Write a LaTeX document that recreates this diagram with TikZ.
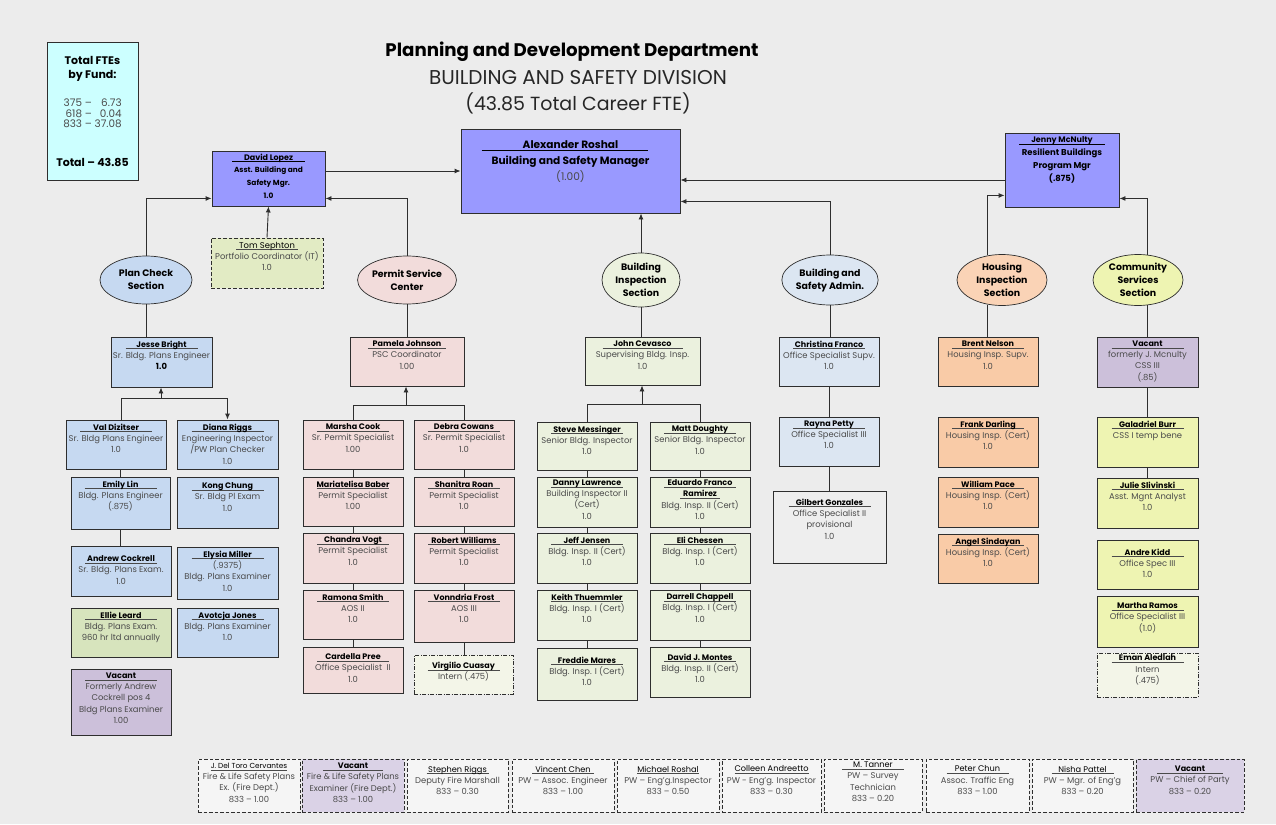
\documentclass[tikz,border=0pt]{standalone}
\usepackage{fontspec}
\setmainfont{Poppins}
\usetikzlibrary{arrows.meta,shapes.geometric,fit}

\definecolor{paper}{HTML}{ECECEC}
\definecolor{edge}{HTML}{2E2E2E}
\definecolor{body}{HTML}{4A4A4A}
\definecolor{mgr}{HTML}{9999FF}
\definecolor{fund}{HTML}{CCFFFF}
\definecolor{plan}{HTML}{C6D9F1}
\definecolor{permit}{HTML}{F2DCDB}
\definecolor{insp}{HTML}{EBF1DE}
\definecolor{admin}{HTML}{DCE6F2}
\definecolor{admintwo}{HTML}{EEEEEE}
\definecolor{housing}{HTML}{F9CBA7}
\definecolor{housingell}{HTML}{FAD3B6}
\definecolor{commun}{HTML}{EEF4B2}
\definecolor{vacant}{HTML}{CCC0DA}
\definecolor{leafgreen}{HTML}{D7E4BD}
\definecolor{itgreen}{HTML}{E2EBC4}
\definecolor{intern}{HTML}{F3F5E8}
\definecolor{ext}{HTML}{F5F5F5}
\definecolor{extvac}{HTML}{DAD2E6}

% underlined name: bold, rule at least #1 wide
\newlength\nmw
\newcommand\nm[2][72pt]{\settowidth\nmw{\fontsize{8}{11}\selectfont\bfseries #2}\ifdim\nmw<#1\relax\nmw=#1\relax\fi
  \leavevmode\rlap{\raisebox{-1.9pt}{\rule{\nmw}{0.6pt}}}\makebox[\nmw]{\fontsize{8}{11}\selectfont\color{black}\bfseries #2}}
% underlined name, regular weight
\newcommand\un[2][58pt]{\settowidth\nmw{#2}\ifdim\nmw<#1\relax\nmw=#1\relax\fi
  \leavevmode\rlap{\raisebox{-1.8pt}{\rule{\nmw}{0.5pt}}}\makebox[\nmw]{\color{black}#2}}

% staff box: [text offset]{id}{style}{corner}{corner}{text}
\newcommand\pbox[6][3pt]{%
  \node[#3, fit={(#4) (#5)}] (#2) {};
  \node[btxt, anchor=north] at ([yshift=-#1]#2.north) {#6};}

\tikzset{
  base/.style={draw=edge, line width=0.9pt, inner sep=0pt},
  mgrbox/.style={base, fill=mgr},
  planbox/.style={base, fill=plan},
  permitbox/.style={base, fill=permit},
  inspbox/.style={base, fill=insp},
  adminbox/.style={base, fill=admin},
  housingbox/.style={base, fill=housing},
  commbox/.style={base, fill=commun},
  vacbox/.style={base, fill=vacant},
  dashbox/.style={base, line width=0.8pt, dash pattern=on 3.5pt off 2pt},
  dotbox/.style={base, line width=0.8pt, fill=intern, dash pattern=on 4pt off 1.5pt on 1pt off 1.5pt},
  extbox/.style={dashbox, fill=ext},
  btxt/.style={align=center, font=\fontsize{8.4}{11.3}\selectfont, text=body, inner sep=1pt},
  sect/.style={ellipse, draw=edge, line width=0.7pt, inner sep=0pt, align=center,
    font=\fontsize{9.4}{13}\selectfont\bfseries, text=black},
  conn/.style={draw=edge, line width=0.9pt},
  arr/.style={conn, -{Latex[length=6pt,width=5pt]}},
}

\begin{document}
\begin{tikzpicture}[x=1pt,y=-1pt]
\fill[paper] (0,0) rectangle (1276,824);
\useasboundingbox (0,0) rectangle (1276,824);

% ---------- heading ----------
\node[font=\fontsize{18.2}{21}\selectfont\bfseries, text=black] (title) at (572,52) {Planning and Development Department};
\node[font=\fontsize{20}{22}\selectfont, text=black!85] (subtitle) at (578,78) {BUILDING AND SAFETY DIVISION};
\node[font=\fontsize{19}{22}\selectfont, text=black!85] (fte) at (578,103) {(43.85 Total Career FTE)};

% ---------- funds ----------
\node[base, fill=fund, fit={(47,42) (138,180)}] (funds) {};
\node[anchor=north, align=center, font=\fontsize{11}{14}\selectfont, inner sep=0pt] at ([yshift=-15pt]funds.north)
  {\textbf{Total FTEs}\\\textbf{by Fund:}\\[16pt]
   {\fontsize{10.4}{10.6}\selectfont\color{body}\renewcommand\arraystretch{0.92}%
    \begin{tabular}{@{}r@{ -- }r@{}}375&6.73\\618&0.04\\833&37.08\end{tabular}}\\[27pt]
   \textbf{Total -- 43.85}};

% ---------- managers ----------
\node[mgrbox, fit={(461,129) (680,213)}] (rm) {};
\node[anchor=north, align=center, font=\fontsize{10.6}{16}\selectfont, inner sep=0pt] at ([yshift=-12pt]rm.north)
  {\leavevmode\rlap{\hspace{-41pt}\raisebox{-2.2pt}{\rule{166pt}{0.7pt}}}\textbf{Alexander Roshal}\\
   \textbf{Building and Safety Manager}\\{\color{body}(1.00)}};
\node[mgrbox, fit={(212,151) (325,206)}] (dl) {};
\node[anchor=north, align=center, font=\fontsize{7.4}{12.8}\selectfont\bfseries, inner sep=0pt] at ([yshift=-3pt]dl.north)
  {\nm[73pt]{David Lopez}\\Asst. Building and\\Safety Mgr.\\1.0};
\node[mgrbox, fit={(1005,133) (1119,207)}] (jm) {};
\node[anchor=north, align=center, font=\fontsize{8.5}{13}\selectfont\bfseries, inner sep=0pt] at ([yshift=-4pt]jm.north)
  {\nm[86pt]{Jenny McNulty}\\Resilient Buildings\\Program Mgr\\(.875)};

\pbox{tom}{dashbox, fill=itgreen}{211,238}{323,288}{\un[62pt]{Tom Sephton}\\Portfolio Coordinator (IT)\\1.0}

% ---------- sections ----------
\node[sect, fill=plan, minimum width=92pt, minimum height=48pt] (pcs) at (146,280) {Plan Check\\Section};
\node[sect, fill=permit, minimum width=91pt, minimum height=48pt] (psc) at (407,280) {Permit Service\\Center};
\node[sect, fill=insp, minimum width=78pt, minimum height=54pt] (bis) at (641,280) {Building\\Inspection\\Section};
\node[sect, fill=admin, minimum width=86pt, minimum height=50pt] (adm) at (830,280) {Building and\\Safety Admin.};
\node[sect, fill=housingell, minimum width=90pt, minimum height=51pt] (his) at (1002,280) {Housing\\Inspection\\Section};
\node[sect, fill=commun, minimum width=90pt, minimum height=51pt] (css) at (1138,280) {Community\\Services\\Section};

% ---------- plan check ----------
\pbox{jb}{planbox}{111,337}{212,387}{\nm{Jesse Bright}\\Sr. Bldg. Plans Engineer\\{\color{black}\bfseries 1.0}}
\pbox{vd}{planbox}{66,420}{166,469}{\nm{Val Dizitser}\\Sr. Bldg Plans Engineer\\1.0}
\pbox{dr}{planbox}{177,420}{278,469}{\nm{Diana Riggs}\\Engineering Inspector\\/PW Plan Checker\\1.0}
\pbox{em}{planbox}{71,477}{170,529}{\nm{Emily Lin}\\Bldg. Plans Engineer\\(.875)}
\pbox[5pt]{kc}{planbox}{177,477}{278,528}{\nm{Kong Chung}\\Sr. Bldg Pl Exam\\1.0}
\pbox[9pt]{ac}{planbox}{71,546}{171,596}{\nm{Andrew Cockrell}\\Sr. Bldg. Plans Exam.\\1.0}
\pbox{ely}{planbox}{177,547}{278,599}{\nm{Elysia Miller}\\(.9375)\\Bldg. Plans Examiner\\1.0}
\pbox{el}{base, fill=leafgreen}{71,608}{171,657}{\nm{Ellie Leard}\\Bldg. Plans Exam.\\960 hr ltd annually}
\pbox{aj}{planbox}{177,608}{278,657}{\nm{Avotcja Jones}\\Bldg. Plans Examiner\\1.0}
\pbox{vpc}{vacbox}{71,669}{171,735}{\nm{Vacant}\\Formerly Andrew\\Cockrell pos 4\\Bldg Plans Examiner\\1.00}

% ---------- permit service center ----------
\pbox{pj}{permitbox}{350,337}{464,386}{\nm[78pt]{Pamela Johnson}\\PSC Coordinator\\1.00}
\pbox{mc}{permitbox}{303,420}{403,469}{\nm{Marsha Cook}\\Sr. Permit Specialist\\1.00}
\pbox{dc}{permitbox}{414,420}{514,469}{\nm{Debra Cowans}\\Sr. Permit Specialist\\1.0}
\pbox{mb}{permitbox}{303,477}{403,526}{\nm{Mariatelisa Baber}\\Permit Specialist\\1.00}
\pbox{sr}{permitbox}{414,477}{514,526}{\nm{Shanitra Roan}\\Permit Specialist\\1.0}
\pbox{cv}{permitbox}{303,533}{403,583}{\nm{Chandra Vogt}\\Permit Specialist\\1.0}
\pbox{rw}{permitbox}{414,533}{514,583}{\nm{Robert Williams}\\Permit Specialist\\1.0}
\pbox{rs}{permitbox}{303,590}{403,639}{\nm{Ramona Smith}\\AOS II\\1.0}
\pbox{vf}{permitbox}{414,590}{514,642}{\nm{Vonndria Frost}\\AOS III\\1.0}
\pbox[6pt]{cp}{permitbox}{303,647}{403,693}{\nm{Cardella Pree}\\Office Specialist\ \ II\\1.0}
\pbox[6pt]{vc}{dotbox}{414,655}{513,694}{\nm{Virgilio Cuasay}\\Intern (.475)}

% ---------- building inspection ----------
\pbox{jc}{inspbox}{585,337}{700,385}{\nm[80pt]{John Cevasco}\\Supervising Bldg. Insp.\\1.0}
\pbox{sm}{inspbox}{537,422}{637,470}{\nm{Steve Messinger}\\Senior Bldg. Inspector\\1.0}
\pbox{md}{inspbox}{650,422}{750,470}{\nm{Matt Doughty}\\Senior Bldg. Inspector\\1.0}
\pbox[2pt]{dlw}{inspbox}{537,477}{637,527}{\nm{Danny Lawrence}\\Building Inspector II\\(Cert)\\1.0}
\pbox[2pt]{ef}{inspbox}{650,477}{750,527}{\nm{Eduardo Franco}\\\nm[40pt]{Ramirez}\\Bldg. Insp. II (Cert)\\1.0}
\pbox{jj}{inspbox}{537,533}{637,583}{\nm{Jeff Jensen}\\Bldg. Insp. II (Cert)\\1.0}
\pbox{ec}{inspbox}{650,533}{750,583}{\nm{Eli Chessen}\\Bldg. Insp. I (Cert)\\1.0}
\pbox{kt}{inspbox}{537,590}{637,640}{\nm{Keith Thuemmler}\\Bldg. Insp. I (Cert)\\1.0}
\pbox{dch}{inspbox}{650,590}{750,640}{\nm{Darrell Chappell}\\Bldg. Insp. I (Cert)\\1.0}
\pbox[8pt]{fm}{inspbox}{537,648}{637,700}{\nm{Freddie Mares}\\Bldg. Insp. I (Cert)\\1.0}
\pbox[6pt]{djm}{inspbox}{650,647}{750,697}{\nm{David J. Montes}\\Bldg. Insp. II (Cert)\\1.0}

% ---------- admin ----------
\pbox{cf}{adminbox}{779,337}{879,386}{\nm{Christina Franco}\\Office Specialist Supv.\\1.0}
\pbox{rp}{adminbox}{779,417}{879,466}{\nm{Rayna Petty}\\Office Specialist III\\1.0}
\pbox[7pt]{gg}{base, fill=admintwo}{773,491}{886,563}{\nm[82pt]{Gilbert Gonzales}\\Office Specialist II\\provisional\\1.0}

% ---------- housing ----------
\pbox{bn}{housingbox}{938,337}{1038,386}{\nm{Brent Nelson}\\Housing Insp. Supv.\\1.0}
\pbox{fd}{housingbox}{938,417}{1038,467}{\nm{Frank Darling}\\Housing Insp. (Cert)\\1.0}
\pbox{wp}{housingbox}{938,477}{1038,527}{\nm{William Pace}\\Housing Insp. (Cert)\\1.0}
\pbox{asn}{housingbox}{938,534}{1038,583}{\nm{Angel Sindayan}\\Housing Insp. (Cert)\\1.0}

% ---------- community services ----------
\pbox{vcs}{vacbox}{1097,337}{1198,387}{\nm{Vacant}\\formerly J. Mcnulty\\CSS III\\(.85)}
\pbox{gb}{commbox}{1097,417}{1198,467}{\nm{Galadriel Burr}\\CSS I temp bene}
\pbox{js}{commbox}{1097,478}{1198,528}{\nm{Julie Slivinski}\\Asst. Mgnt Analyst\\1.0}
\pbox[8pt]{ak}{commbox}{1097,540}{1198,589}{\nm{Andre Kidd}\\Office Spec III\\1.0}
\pbox[6pt]{mr}{commbox}{1097,596}{1198,647}{\nm{Martha Ramos}\\Office Specialist III\\(1.0)}
\pbox[1pt]{ea}{dotbox}{1097,653}{1198,697}{\nm{Eman Aledlah}\\Intern\\(.475)}

% ---------- positions funded elsewhere ----------
\pbox[3pt]{xa}{extbox}{198,759}{300,812}{\fontsize{7.3}{10}\selectfont\un[76pt]{J. Del Toro Cervantes}\\Fire \& Life Safety Plans\\Ex. (Fire Dept.)\\833 -- 1.00}
\pbox[3pt]{xb}{dashbox, fill=extvac}{302,759}{404,812}{\fontsize{7.3}{10}\selectfont\nm[60pt]{Vacant}\\Fire \& Life Safety Plans\\Examiner (Fire Dept.)\\833 -- 1.00}
\pbox[6pt]{xc}{extbox}{407,759}{508,812}{\fontsize{8.2}{10.6}\selectfont\un[62pt]{Stephen Riggs}\\Deputy Fire Marshall\\833 -- 0.30}
\pbox[6pt]{xd}{extbox}{512,759}{614,812}{\fontsize{8.2}{10.6}\selectfont\un[62pt]{Vincent Chen}\\PW -- Assoc. Engineer\\833 -- 1.00}
\pbox[6pt]{xe}{extbox}{617,759}{719,812}{\fontsize{8.2}{10.6}\selectfont\un[62pt]{Michael Roshal}\\PW -- Eng'g.Inspector\\833 -- 0.50}
\pbox[6pt]{xf}{extbox}{722,759}{821,812}{\fontsize{8.2}{10.6}\selectfont\un[62pt]{Colleen Andreetto}\\PW - Eng'g. Inspector\\833 -- 0.30}
\pbox[2pt]{xg}{extbox}{824,759}{922,812}{\fontsize{8.2}{10.4}\selectfont\un[62pt]{M. Tanner}\\PW -- Survey\\Technician\\833 -- 0.20}
\pbox[6pt]{xh}{extbox}{926,759}{1029,812}{\fontsize{8.2}{10.6}\selectfont\un[62pt]{Peter Chun}\\Assoc. Traffic Eng\\833 -- 1.00}
\pbox[6pt]{xi}{extbox}{1032,759}{1133,812}{\fontsize{8.2}{10.6}\selectfont\un[62pt]{Nisha Pattel}\\PW -- Mgr. of Eng'g\\833 -- 0.20}
\pbox[6pt]{xj}{dashbox, fill=extvac}{1136,759}{1244,812}{\fontsize{8.2}{10.6}\selectfont\nm[66pt]{Vacant}\\PW -- Chief of Party\\833 -- 0.20}

% ---------- reporting lines: top level ----------
\draw[arr] (dl.east |- rm.west) -- (rm.west);
\draw[arr] (pcs.north) |- ([yshift=8pt]dl.south west);
\draw[arr] (psc.north) |- ([yshift=8pt]dl.south east);
\draw[arr] (tom.north) -- (dl.south);
\draw[arr] (bis.north) -- (bis.north |- rm.south);
\draw[arr] (adm.north) |- ([yshift=12pt]rm.south east);
\draw[arr] ([yshift=-10pt]jm.west) -- ([yshift=-10pt]jm.west -| rm.east);
\draw[arr] (his.120) |- ([yshift=12pt]jm.south west);
\draw[arr] (css.70) |- ([yshift=9pt]jm.south east);

% sections to their leads
\draw[conn] (pcs.south) -- (pcs.south |- jb.north);
\draw[conn] (psc.south) -- (pj.north);
\draw[conn] (bis.south) -- (bis.south |- jc.north);
\draw[conn] (adm.south) -- (adm.south |- cf.north);
\draw[conn] (his.240) -- (his.240 |- bn.north);
\draw[conn] (css.290) -- (css.290 |- vcs.north);

% plan check
\coordinate (pcbus) at (161,398);
\draw[arr] ([xshift=5pt]vd.north) |- (dr.north |- pcbus) -- (dr.north);
\draw[arr] (pcbus) -- (pcbus |- jb.south);
\draw[conn] (em.north |- vd.south) -- (em.north);
\draw[conn] (em.south) -- (em.south |- ac.north);

% permit service center
\coordinate (psbus) at (406,405);
\draw[conn] (mc.north) |- (dc.north |- psbus) -- (dc.north);
\draw[arr] (psbus) -- (psbus |- pj.south);
\foreach \a/\b in {mc/mb, mb/cv, cv/rs, rs/cp, dc/sr, sr/rw, rw/vf}
  \draw[conn] (\a.south) -- (\b.north);
\draw[conn] (vf.south) -- (vf.south |- vc.north);

% building inspection
\coordinate (bibus) at (642,404);
\draw[conn] (sm.north) |- (md.north |- bibus) -- (md.north);
\draw[arr] (bibus) -- (bibus |- jc.south);
\foreach \a/\b in {sm/dlw, dlw/jj, jj/kt, kt/fm, md/ef, ef/ec, ec/dch, dch/djm}
  \draw[conn] (\a.south) -- (\b.north);

% admin
\draw[conn] (cf.south) -- (rp.north);
\draw[conn] (rp.south) -- (rp.south |- gg.north);

% community services
\draw[conn] (vcs.south) -- (gb.north);
\draw[conn] (gb.south) -- (js.north);
\end{tikzpicture}
\end{document}
